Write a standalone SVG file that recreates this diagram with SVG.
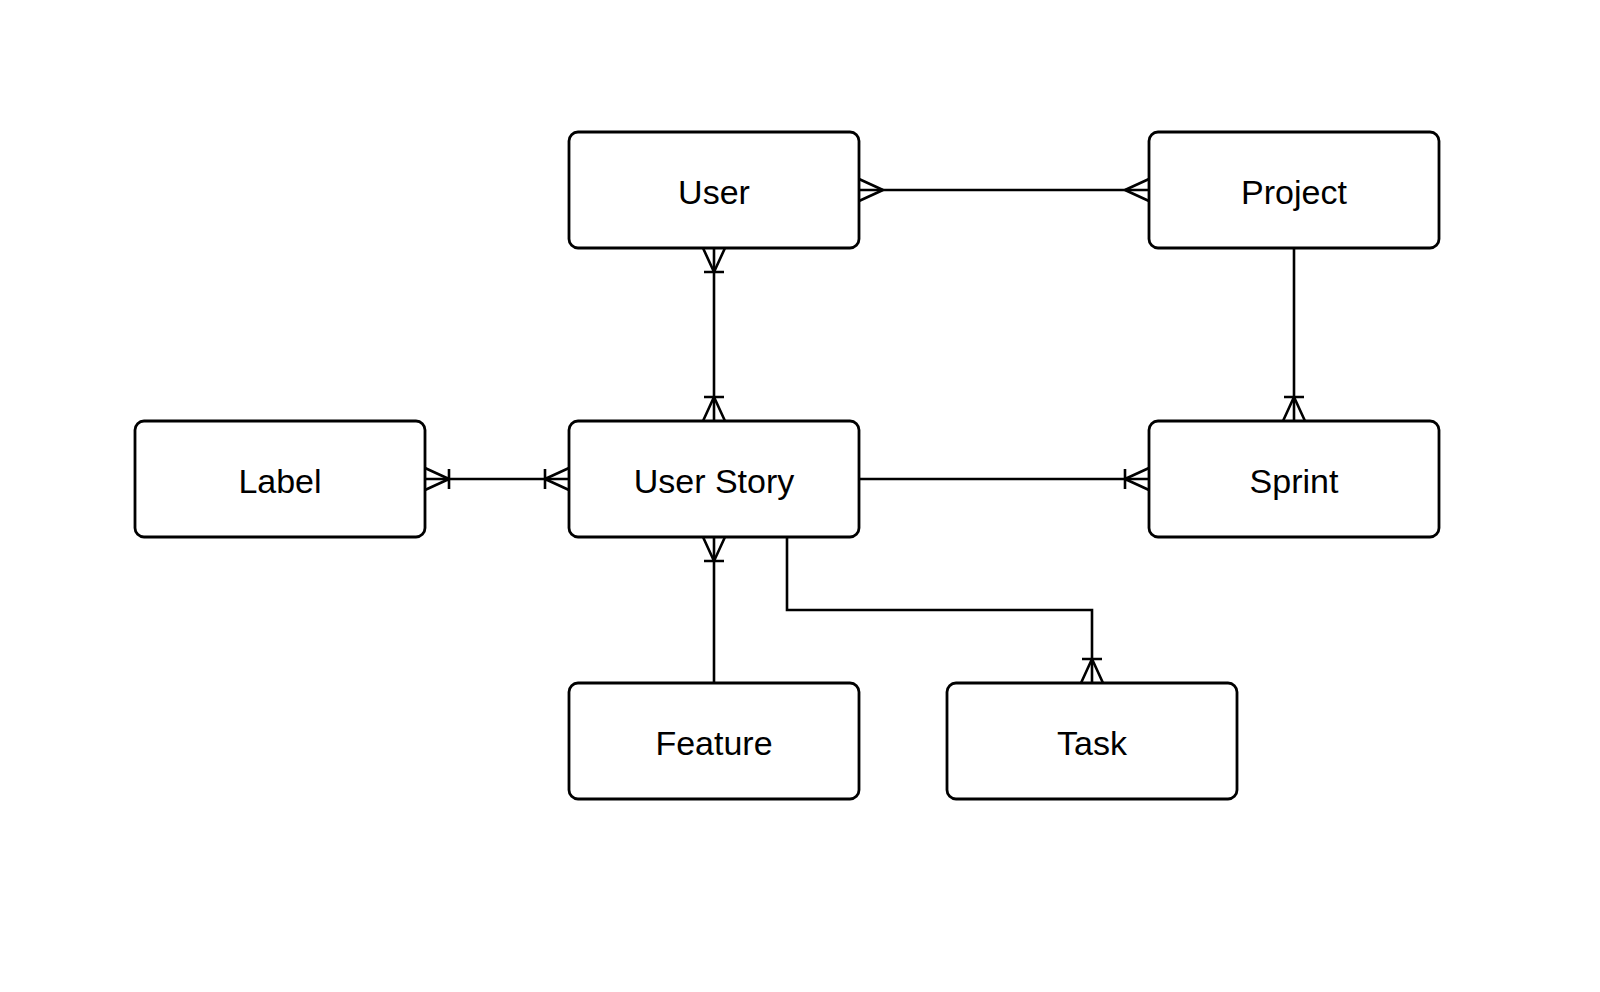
<svg xmlns="http://www.w3.org/2000/svg" width="1600" height="992" viewBox="0 0 1600 992">
<style>
.box{fill:#fff;stroke:#000;stroke-width:2.8}
.lbl{font-family:"Liberation Sans",Arial,Helvetica,sans-serif;font-size:34px;fill:#000;text-anchor:middle}
.edge{fill:none;stroke:#000;stroke-width:2.6}
.mk{fill:none;stroke:#000;stroke-width:2.6}
</style>
<defs>
<marker id="many" markerUnits="userSpaceOnUse" orient="auto-start-reverse" refX="0" refY="0" markerWidth="40" markerHeight="40" overflow="visible">
<path class="mk" d="M -24 0 L 0 -11 M -24 0 L 0 11"/>
</marker>
<marker id="oneMany" markerUnits="userSpaceOnUse" orient="auto-start-reverse" refX="0" refY="0" markerWidth="40" markerHeight="40" overflow="visible">
<path class="mk" d="M -24 0 L 0 -11 M -24 0 L 0 11 M -24 -10 L -24 10"/>
</marker>
</defs>
<rect width="1600" height="992" fill="#fff"/>
<g id="connectors">
<path class="edge" d="M 859 190 L 1149 190" marker-start="url(#many)" marker-end="url(#many)"/>
<path class="edge" d="M 714 248 L 714 421" marker-start="url(#oneMany)" marker-end="url(#oneMany)"/>
<path class="edge" d="M 425 479 L 569 479" marker-start="url(#oneMany)" marker-end="url(#oneMany)"/>
<path class="edge" d="M 859 479 L 1149 479" marker-end="url(#oneMany)"/>
<path class="edge" d="M 1294 248 L 1294 421" marker-end="url(#oneMany)"/>
<path class="edge" d="M 714 683 L 714 537" marker-end="url(#oneMany)"/>
<path class="edge" d="M 787 537 L 787 610 L 1092 610 L 1092 683" marker-end="url(#oneMany)"/>
</g>
<g id="user"><rect class="box" x="569" y="132" width="290" height="116" rx="9"/><text class="lbl" x="714" y="204">User</text></g>
<g id="project"><rect class="box" x="1149" y="132" width="290" height="116" rx="9"/><text class="lbl" x="1294" y="204">Project</text></g>
<g id="label"><rect class="box" x="135" y="421" width="290" height="116" rx="9"/><text class="lbl" x="280" y="493">Label</text></g>
<g id="userstory"><rect class="box" x="569" y="421" width="290" height="116" rx="9"/><text class="lbl" x="714" y="493">User Story</text></g>
<g id="sprint"><rect class="box" x="1149" y="421" width="290" height="116" rx="9"/><text class="lbl" x="1294" y="493">Sprint</text></g>
<g id="feature"><rect class="box" x="569" y="683" width="290" height="116" rx="9"/><text class="lbl" x="714" y="755">Feature</text></g>
<g id="task"><rect class="box" x="947" y="683" width="290" height="116" rx="9"/><text class="lbl" x="1092" y="755">Task</text></g>
</svg>
